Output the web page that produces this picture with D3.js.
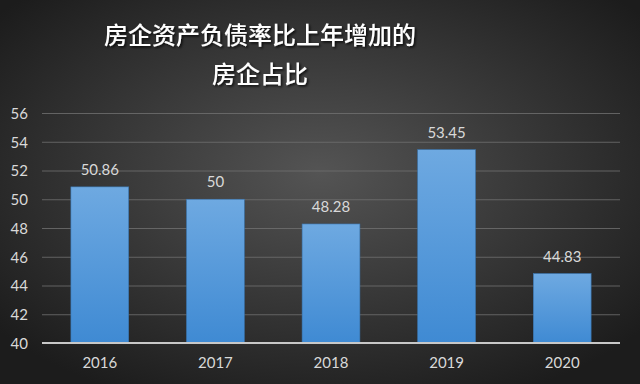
<!DOCTYPE html>
<html>
<head>
<meta charset="utf-8">
<script src="https://cdn.jsdelivr.net/npm/d3@7"></script>
<style>
  body { margin: 0; background: #222; }
  svg { display: block; }
</style>
</head>
<body>
<div id="chart"></div>
<script>
// data
const years = ['2016', '2017', '2018', '2019', '2020'];
const values = [50.86, 50, 48.28, 53.45, 44.83];
const yTicks = [40, 42, 44, 46, 48, 50, 52, 54, 56];
const titleLines = ['房企资产负债率比上年增加的', '房企占比'];

const w = 640,
      h = 384,
      plotLeft = 42,
      plotRight = 620,
      plotTop = 113,
      plotBottom = 343;

const svg = d3.select('#chart')
    .append('svg')
    .attr('width', w)
    .attr('height', h);

const defs = svg.append('defs');

// background glow
const bg = defs.append('radialGradient')
    .attr('id', 'bg')
    .attr('cx', '50%').attr('cy', '45%').attr('r', '65%');
bg.append('stop').attr('offset', '0%').attr('stop-color', '#545454');
bg.append('stop').attr('offset', '100%').attr('stop-color', '#1c1c1c');

const barGrad = defs.append('linearGradient')
    .attr('id', 'bar')
    .attr('x1', 0).attr('y1', 0).attr('x2', 0).attr('y2', 1);
barGrad.append('stop').attr('offset', '0%').attr('stop-color', '#6ea9e1');
barGrad.append('stop').attr('offset', '100%').attr('stop-color', '#3f8ad3');

const shadow = defs.append('filter').attr('id', 'shadow')
    .attr('x', '-10%').attr('y', '-10%').attr('width', '130%').attr('height', '140%');
shadow.append('feDropShadow')
    .attr('dx', 1.5).attr('dy', 1.5).attr('stdDeviation', 1)
    .attr('flood-color', '#000').attr('flood-opacity', 0.8);

svg.append('rect')
    .attr('width', w)
    .attr('height', h)
    .attr('fill', 'url(#bg)');

// scales
const xScale = d3.scaleBand()
    .domain(years)
    .range([plotLeft, plotRight])
    .paddingInner(0.5)
    .paddingOuter(0.25);

const yScale = d3.scaleLinear()
    .domain([40, 56])
    .range([plotBottom, plotTop]);

// gridlines
const yAxis = d3.axisLeft(yScale)
    .tickValues(yTicks)
    .tickSize(-(plotRight - plotLeft))
    .tickPadding(14);

const gy = svg.append('g')
    .attr('transform', 'translate(' + plotLeft + ',0)')
    .call(yAxis);
gy.select('.domain').remove();
gy.selectAll('.tick line')
    .attr('stroke', '#707070')
    .attr('stroke-width', 1)
    .attr('opacity', d => d === 40 ? 0 : 0.8);
gy.selectAll('.tick text')
    .attr('fill', '#d9d9d9')
    .attr('font-family', 'Lato, "Open Sans", sans-serif')
    .attr('font-size', 15)
    .attr('dy', '0.35em');

// bars
svg.selectAll('.bar')
    .data(values)
    .enter()
    .append('rect')
    .attr('class', 'bar')
    .attr('x', (d, i) => xScale(years[i]))
    .attr('y', d => yScale(d))
    .attr('width', xScale.bandwidth())
    .attr('height', d => yScale(40) - yScale(d))
    .attr('fill', 'url(#bar)')
    .attr('stroke', '#3a76b0')
    .attr('stroke-width', 0.6);

// value labels
svg.selectAll('.val')
    .data(values)
    .enter()
    .append('text')
    .text(d => d)
    .attr('x', (d, i) => xScale(years[i]) + xScale.bandwidth() / 2)
    .attr('y', d => yScale(d) - 12)
    .attr('text-anchor', 'middle')
    .attr('fill', '#d9d9d9')
    .attr('font-family', 'Lato, "Open Sans", sans-serif')
    .attr('font-size', 15);

// x axis
const xAxis = d3.axisBottom(xScale).tickSize(0).tickPadding(14);
const gx = svg.append('g')
    .attr('transform', 'translate(0,' + plotBottom + ')')
    .call(xAxis);
gx.select('.domain')
    .attr('stroke', '#c8c8c8')
    .attr('stroke-width', 2)
    .attr('d', 'M' + plotLeft + ',0H' + plotRight);
gx.selectAll('.tick text')
    .attr('fill', '#d9d9d9')
    .attr('font-family', 'Lato, "Open Sans", sans-serif')
    .attr('font-size', 15);

// title
svg.selectAll('.title')
    .data(titleLines)
    .enter()
    .append('text')
    .text(d => d)
    .attr('x', 260)
    .attr('y', (d, i) => 44 + i * 39)
    .attr('text-anchor', 'middle')
    .attr('fill', '#ffffff')
    .attr('font-family', '"Noto Sans CJK SC", sans-serif')
    .attr('font-weight', 500)
    .attr('font-size', 24)
    .attr('filter', 'url(#shadow)');
</script>
</body>
</html>
